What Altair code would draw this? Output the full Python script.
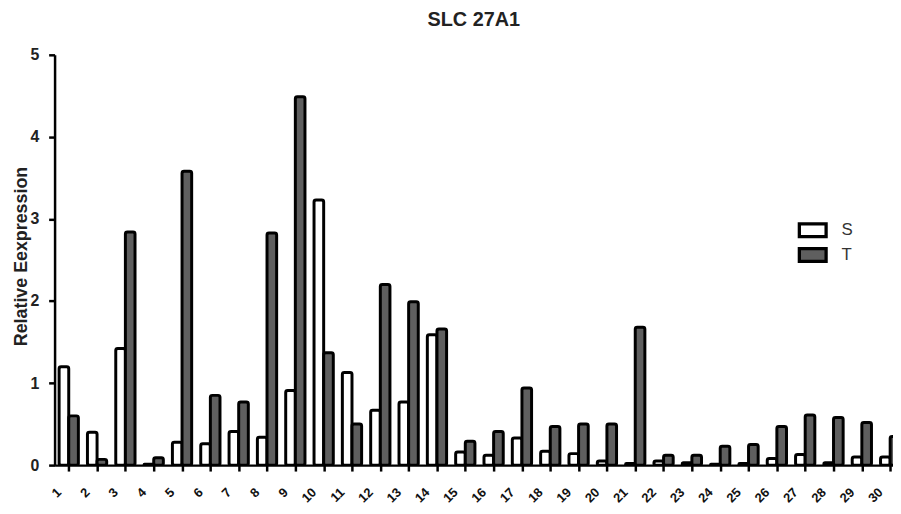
import altair as alt
import pandas as pd

categories = list(range(1, 31))
s_values = [1.20, 0.40, 1.42, 0.01, 0.28, 0.26, 0.41, 0.34, 0.91, 3.23,
            1.13, 0.67, 0.77, 1.59, 0.16, 0.12, 0.33, 0.17, 0.14, 0.05,
            0.02, 0.05, 0.03, 0.01, 0.02, 0.08, 0.13, 0.03, 0.10, 0.10]
t_values = [0.60, 0.07, 2.84, 0.09, 3.58, 0.85, 0.77, 2.83, 4.49, 1.37,
            0.50, 2.20, 1.99, 1.66, 0.29, 0.41, 0.94, 0.47, 0.50, 0.50,
            1.68, 0.12, 0.12, 0.23, 0.25, 0.47, 0.61, 0.58, 0.52, 0.35]
series_names = ["S", "T"]
y_ticks = [0, 1, 2, 3, 4, 5]

rows = []
for c, s, t in zip(categories, s_values, t_values):
    rows.append({"cat": c, "series": "S", "value": s})
    rows.append({"cat": c, "series": "T", "value": t})
df = pd.DataFrame(rows)

HALF = 0.34

bars = (
    alt.Chart(df)
    .transform_calculate(
        x0=f"datum.series == 'S' ? datum.cat - {HALF} : datum.cat",
        x1=f"datum.series == 'S' ? datum.cat : datum.cat + {HALF}",
    )
    .mark_bar(stroke="black", strokeWidth=3, cornerRadius=2, clip=True)
    .encode(
        x=alt.X("x0:Q", scale=alt.Scale(domain=[0.5, 30.1], nice=False, zero=False),
                axis=alt.Axis(values=categories, title=None, labelAngle=-45,
                              labelAlign="right", labelBaseline="middle",
                              labelFont="Liberation Sans", labelFontSize=13,
                              labelFontWeight="bold", labelColor="#111",
                              labelPadding=19, labelOffset=-10,
                              tickSize=6, tickWidth=2.5,
                              tickColor="black", domainColor="black",
                              domainWidth=2.5, grid=False, labelOverlap=False)),
        x2="x1:Q",
        y=alt.Y("value:Q", scale=alt.Scale(domain=[0, 5], nice=False),
                axis=alt.Axis(values=y_ticks, title="Relative Eexpression",
                              titleFont="Liberation Sans", titleFontSize=18,
                              titleFontWeight="bold", titleColor="#222",
                              titleX=-33, titleY=203, titleAngle=-90,
                              titleAlign="center", titleBaseline="middle",
                              labelFont="Liberation Sans", labelFontSize=16,
                              labelFontWeight="bold", labelColor="#222",
                              labelPadding=10,
                              tickSize=6, tickWidth=2.5, tickColor="black",
                              domainColor="black", domainWidth=2.5, grid=False)),
        y2=alt.datum(0),
        fill=alt.Fill("series:N", scale=alt.Scale(domain=series_names,
                                                  range=["white", "#5f5f5f"]),
                      legend=alt.Legend(title=None, orient="none",
                                        legendX=753, legendY=165,
                                        symbolType="M-1.35,-0.64H1.35V0.64H-1.35Z",
                                        symbolSize=400, symbolStrokeColor="black",
                                        symbolStrokeWidth=3.3, rowPadding=-1,
                                        labelFont="Liberation Sans",
                                        labelFontSize=17, labelColor="#333",
                                        labelOffset=17, padding=0)),
    )
)

chart = (
    bars.properties(
        width=846, height=414,
        title=alt.TitleParams("SLC 27A1", font="Liberation Sans", fontSize=20,
                              fontWeight="bold", color="#222", anchor="middle",
                              offset=17),
        autosize=alt.AutoSizeParams(type="none"),
        padding={"left": 47, "top": 45, "right": 0, "bottom": 39},
    )
    .configure_view(stroke=None)
)

chart.save("out.html", embed_options={"renderer": "svg", "actions": False})
